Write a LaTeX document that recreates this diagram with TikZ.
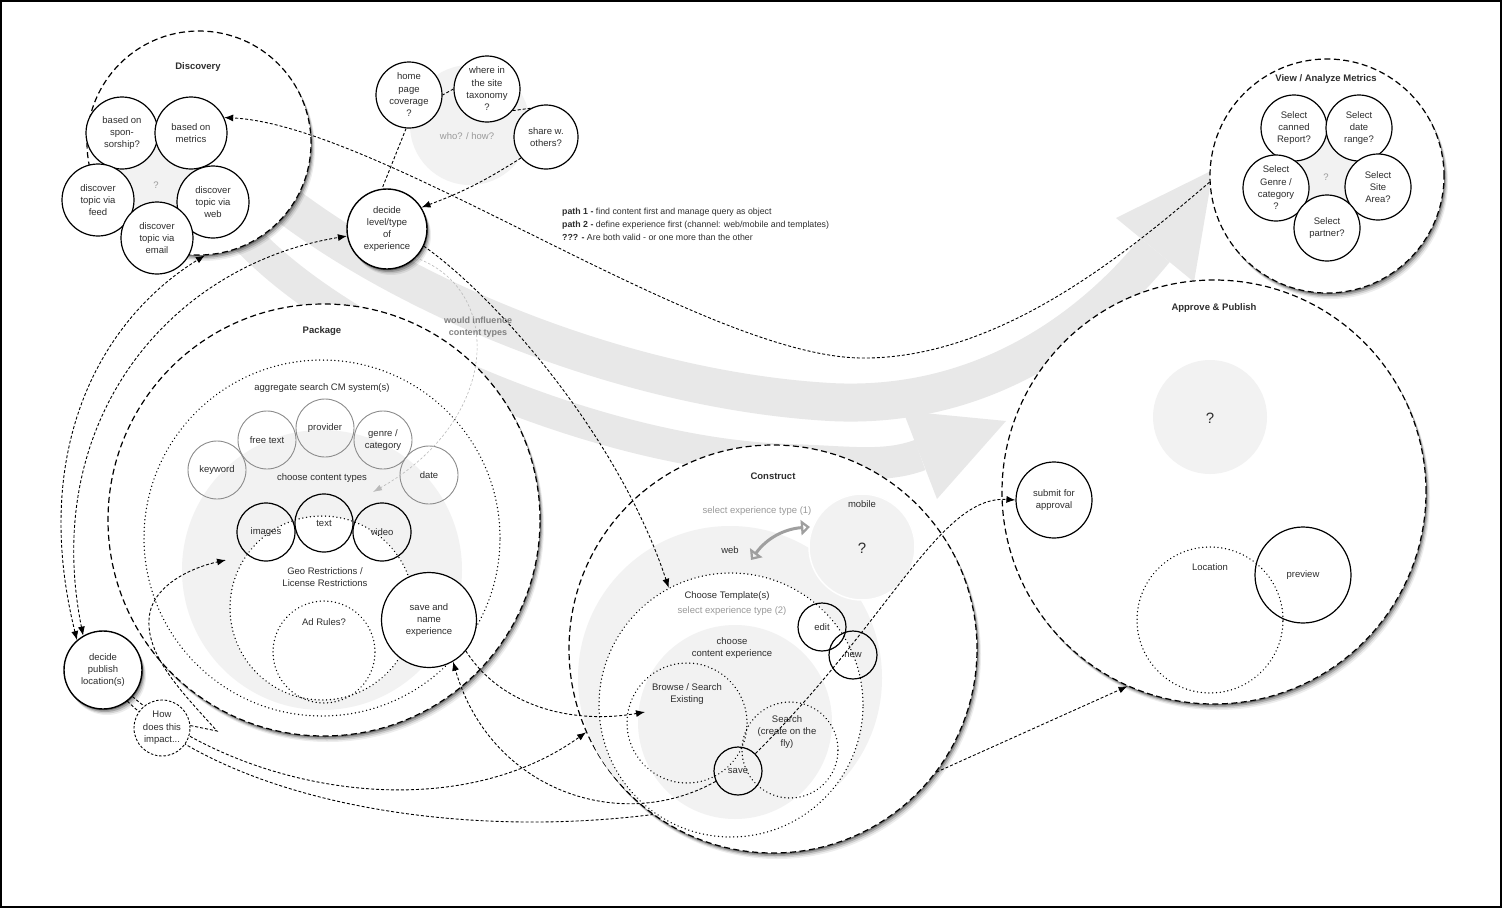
\documentclass[tikz,border=0pt]{standalone}
\usepackage{fontspec}
\setmainfont{Liberation Sans}
\usetikzlibrary{arrows.meta,shadows}
\definecolor{txt}{HTML}{2E2E2E}
\definecolor{bandc}{HTML}{E8E8E8}
\definecolor{diskc}{HTML}{F2F2F2}
\definecolor{softtxt}{HTML}{9A9A9A}
\definecolor{ringc}{HTML}{8C8C8C}
\begin{document}
\begin{tikzpicture}[x=1pt,y=-1pt, font=\fontsize{9.5}{12.3}\selectfont, text=txt,
 shad/.style={drop shadow={shadow xshift=4pt,shadow yshift=-6pt,opacity=0.07,fill=black},
              drop shadow={shadow xshift=3pt,shadow yshift=-4.5pt,opacity=0.12,fill=black},
              drop shadow={shadow xshift=2pt,shadow yshift=-3pt,opacity=0.2,fill=black},
              drop shadow={shadow xshift=1pt,shadow yshift=-1.5pt,opacity=0.3,fill=black}},
 stage/.style={circle, draw=black, fill=white, line width=1.2pt, dash pattern=on 6pt off 3.5pt, inner sep=0pt},
 bub/.style={circle, draw=black, fill=white, line width=1.2pt, inner sep=0pt, align=center},
 ring/.style={circle, draw=black, line width=1.2pt, inner sep=0pt, align=center},
 ghost/.style={circle, draw=ringc, line width=0.9pt, inner sep=0pt, align=center, minimum size=58pt},
 dotc/.style={circle, draw=black, line width=1.5pt, line cap=round, dash pattern=on 0.01pt off 3.8pt, inner sep=0pt},
 disk/.style={circle, fill=diskc, inner sep=0pt},
 ttl/.style={font=\fontsize{9.5}{12}\selectfont\bfseries},
 soft/.style={text=softtxt},
 bigq/.style={font=\fontsize{15}{18}\selectfont},
 conn/.style={line width=0.9pt, dash pattern=on 3pt off 2pt},
 arr/.style={conn, -{Latex[length=9pt,width=7pt]}},
 darr/.style={conn, {Latex[length=9pt,width=7pt]}-{Latex[length=9pt,width=7pt]}},
 band/.style={draw=bandc, line cap=butt}]

\useasboundingbox (0,0) rectangle (1502,908);
\fill[white] (0,0) rectangle (1502,908);
\draw[line width=2pt] (1,1) rectangle (1501,907);

% background bands
\draw[band, line width=38pt] (250,175) .. controls (380,290) and (620,390) .. (830,402)
   .. controls (980,410) and (1090,330) .. (1155,250);
\fill[bandc] (1194,282) -- (1213,170) -- (1116,218) -- cycle;
\draw[band, line width=32pt] (235,225) .. controls (330,340) and (600,455) .. (790,460)
   .. controls (850,462) and (885,468) .. (920,455);
\fill[bandc] (937,499) -- (1006,421) -- (903,411) -- cycle;

% who / how disk
\node[disk, minimum size=120pt] (whodisk) at (470,125) {};

% ---------------- Discovery
\node[stage, shad, minimum size=224pt] (disc) at (199,143) {};
\node[ttl] (discT) at (198,67) {Discovery};
\fill[diskc] (122,133) -- (191,133) -- (213,202) -- (157,238) -- (98,200) -- cycle;
\node[bub, minimum size=72pt] (spons) at (122,133) {based on\\spon-\\sorship?};
\node[bub, minimum size=72pt] (metr) at (191,133) {based on\\metrics};
\node[bub, minimum size=72pt] (feed) at (98,200) {discover\\topic via\\feed};
\node[bub, minimum size=72pt] (webd) at (213,202) {discover\\topic via\\web};
\node[bub, minimum size=72pt] (email) at (157,238) {discover\\topic via\\email};
\node[soft] (discQ) at (156,185) {?};

% ---------------- View / Analyze Metrics
\node[stage, shad, minimum size=234pt] (view) at (1327,176) {};
\node[ttl] (viewT) at (1326,79) {View / Analyze Metrics};
\fill[diskc] (1294,128) -- (1359,128) -- (1378,187) -- (1327,228) -- (1276,188) -- cycle;
\node[bub, minimum size=66pt] (canned) at (1294,128) {Select\\canned\\Report?};
\node[bub, minimum size=66pt] (drange) at (1359,128) {Select\\date\\range?};
\node[bub, minimum size=66pt] (gcat) at (1276,188) {Select\\Genre /\\category\\?};
\node[bub, minimum size=66pt] (sarea) at (1378,187) {Select\\Site\\Area?};
\node[bub, minimum size=66pt] (partner) at (1327,228) {Select\\partner?};
\node[soft] (viewQ) at (1326,177) {?};

% ---------------- Package
\node[stage, shad, minimum size=432pt] (pack) at (324,520) {};
\node[ttl] (packT) at (322,331) {Package};
\node[dotc, minimum size=356pt] (aggr) at (322,538) {};
\node (aggrT) at (322,388) {aggregate search CM system(s)};
\node[disk, minimum size=280pt] (pdisk) at (322,570) {};
\node[ghost] (kw) at (217,470) {keyword};
\node[ghost] (ftxt) at (267,440) {free text};
\node[ghost] (prov) at (325,428) {provider};
\node[ghost] (genre) at (383,440) {genre /\\category};
\node[ghost] (date) at (429,475) {date};
\node (ctypesT) at (322,478) {choose content types};
\node[dotc, fill=white, minimum size=184pt] (geo) at (322,608) {};
\node[align=center] (geoT) at (325,577) {Geo Restrictions /\\License Restrictions};
\node[dotc, minimum size=102pt] (adr) at (324,652) {};
\node (adrT) at (324,622) {Ad Rules?};
\node[ring, minimum size=58pt] (img) at (266,532) {images};
\node[ring, minimum size=58pt] (txtc) at (324,523) {text};
\node[ring, minimum size=58pt] (vid) at (382,532) {video};
\node[bub, minimum size=95pt] (sname) at (429,620) {save and\\name\\experience};

% ---------------- Construct
\node[stage, shad, minimum size=408pt] (cons) at (773,649) {};
\node[ttl] (consT) at (773,476) {Construct};
\node[disk, minimum size=304pt] (cdisk) at (730,678) {};
\node[circle, fill=diskc, draw=white, line width=1.5pt, minimum size=106pt, inner sep=0pt] (mob) at (862,547) {};
\node (mobT) at (862,504) {mobile};
\node[bigq] (mobQ) at (862,548) {?};
\node[soft] (set1) at (757,511) {select experience type (1)};
\node (webT) at (730,550) {web};
\draw[draw=gray!75, line width=3pt, {Triangle[open,length=9pt,width=15pt]}-{Triangle[open,length=9pt,width=15pt]}]
   (751,560) to[bend left=25] (810,527);
\node[dotc, fill=white, minimum size=264pt] (tmpl) at (731,705) {};
\node (tmplT) at (727,596) {Choose Template(s)};
\node[soft] (set2) at (732,611) {select experience type (2)};
\node[disk, minimum size=194pt] (idisk) at (735,722) {};
\node[align=center] (cceT) at (732,648) {choose\\content experience};
\node[dotc, minimum size=120pt] (brow) at (687,723) {};
\node[align=center] (browT) at (687,694) {Browse / Search\\Existing};
\node[dotc, minimum size=96pt] (srch) at (790,750) {};
\node[align=center] (srchT) at (787,732) {Search\\(create on the\\fly)};
\node[ring, minimum size=48pt] (save) at (738,771) {save};
\node[ring, minimum size=48pt] (edit) at (822,627) {edit};
\node[ring, minimum size=48pt] (new) at (853,655) {new};

% ---------------- Approve & Publish
\node[stage, shad, minimum size=424pt] (appr) at (1214,492) {};
\node[ttl] (apprT) at (1214,308) {Approve \& Publish};
\node[disk, minimum size=114pt] (adisk) at (1210,417) {};
\node[bigq] (apprQ) at (1210,418) {?};
\node[bub, minimum size=76pt] (subm) at (1054,500) {submit for\\approval};
\node[dotc, minimum size=146pt] (loc) at (1210,620) {};
\node (locT) at (1210,567) {Location};
\node[ring, minimum size=96pt] (prev) at (1303,575) {preview};

% ---------------- top middle
\node[bub, minimum size=66pt] (home) at (409,95) {home\\page\\coverage\\?};
\node[bub, minimum size=66pt] (where) at (487,89) {where in\\the site\\taxonomy\\?};
\node[bub, minimum size=64pt] (share) at (546,137) {share w.\\others?};
\node[soft] (whoT) at (467,136) {who? / how?};
\node[bub, shad, line width=1.4pt, minimum size=80pt] (dlev) at (387,229) {decide\\level/type\\of\\experience};

% ---------------- left
\node[bub, shad, line width=1.4pt, minimum size=78pt] (dpub) at (103,670) {decide\\publish\\location(s)};

\node[anchor=north west, align=left, inner sep=0pt, font=\fontsize{8.8}{13}\selectfont] (paths) at (562,208)
 {\textbf{path 1 -} find content first and manage query as object\\
  \textbf{path 2 -} define experience first (channel: web/mobile and templates)\\
  \textbf{??? -} Are both valid - or one more than the other};

% ---------------- connectors
\coordinate (ctypes) at (373,492);
\coordinate (browa) at (645,712);
\coordinate (imga) at (226,560);

\draw[conn] (home.-95) -- (dlev.97);
\draw[conn] (where.west) -- (home.east);
\draw[conn] (where.-40) -- (share.118);
\draw[arr] (share.220) to[bend left=6] (dlev.32);

\draw[arr] (view.183) .. controls (1130,250) and (1000,360) .. (860,358)
   .. controls (700,355) and (380,125) .. (metr.25);
\draw[arr] (dlev.-25) .. controls (500,300) and (620,440) .. (tmpl.118);
\draw[draw=gray!55, line width=0.6pt, dash pattern=on 2.5pt off 2pt, -{Latex[length=9pt,width=6pt]}]
   (dlev.-45) .. controls (505,290) and (500,420) .. (ctypes);
\node[text=gray, font=\fontsize{9}{12}\selectfont\bfseries, align=center] (wouldT) at (478,327) {would influence\\content types};

\draw[darr] (dpub.131) .. controls (30,450) and (100,320) .. (disc.-87);
\draw[darr] (dpub.120) .. controls (40,420) and (170,265) .. (dlev.190);

\draw[arr] (save.205) .. controls (620,835) and (490,790) .. (sname.-60);
\draw[arr] (sname.-40) .. controls (500,705) and (570,725) .. (browa);
\draw[arr] (dpub.-42) .. controls (240,790) and (450,830) .. (cons.204);
\draw[conn] (dpub.-52) .. controls (230,800) and (450,840) .. (cons.234);
\draw[arr] (save.45) .. controls (890,620) and (940,495) .. (subm.west);
\draw[arr] (cons.-37) -- (appr.246);

\node[circle, draw, fill=white, line width=0.9pt, dash pattern=on 2.5pt off 1.8pt, inner sep=0pt,
      minimum size=56pt, align=center] (how) at (162,728) {How\\does this\\impact...};
\draw[arr] (how.5) -- (217,731) .. controls (180,690) and (142,652) .. (150,612)
   .. controls (156,585) and (190,568) .. (imga);
\end{tikzpicture}
\end{document}
